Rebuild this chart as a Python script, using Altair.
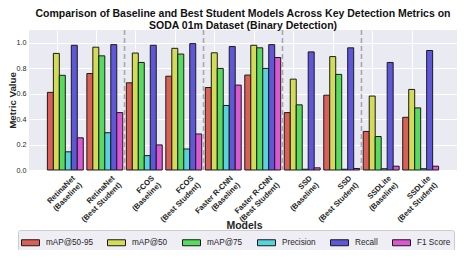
import altair as alt
import pandas as pd

models = ["RetinaNet\n(Baseline)", "RetinaNet\n(Best Student)",
          "FCOS\n(Baseline)", "FCOS\n(Best Student)",
          "Faster R-CNN\n(Baseline)", "Faster R-CNN\n(Best Student)",
          "SSD\n(Baseline)", "SSD\n(Best Student)",
          "SSDLite\n(Baseline)", "SSDLite\n(Best Student)"]
metrics = ["mAP@50-95", "mAP@50", "mAP@75", "Precision", "Recall", "F1 Score"]
colors = ["#db5f57", "#d3db57", "#57db5f", "#57d3db", "#5f57db", "#db57d3"]

map5095 = [0.610, 0.758, 0.685, 0.737, 0.648, 0.746, 0.451, 0.588, 0.303, 0.414]
map50 = [0.916, 0.965, 0.919, 0.956, 0.921, 0.980, 0.714, 0.891, 0.581, 0.633]
map75 = [0.744, 0.897, 0.845, 0.911, 0.798, 0.960, 0.512, 0.751, 0.263, 0.488]
precision = [0.143, 0.293, 0.113, 0.165, 0.507, 0.798, 0.006, 0.006, 0.010, 0.010]
recall = [0.980, 0.985, 0.980, 0.993, 0.970, 0.985, 0.928, 0.960, 0.845, 0.939]
f1 = [0.253, 0.451, 0.197, 0.283, 0.667, 0.884, 0.017, 0.012, 0.030, 0.030]

separators = [models[1], models[3], models[5], models[7]]
title_lines = ["Comparison of Baseline and Best Student Models Across Key Detection Metrics on",
               "SODA 01m Dataset (Binary Detection)"]

series = [map5095, map50, map75, precision, recall, f1]
rows = []
for m, vals in zip(metrics, series):
    for model, v in zip(models, vals):
        rows.append({"Model": model, "Metric": m, "Value": v})
df = pd.DataFrame(rows)
sep_df = pd.DataFrame({"Model": separators})

x_scale = alt.Scale(domain=models, paddingInner=0, paddingOuter=0.42)
x_axis = alt.Axis(
    title="Models", titleFontSize=10.5, titleFontWeight="bold", titleColor="#262626",
    titleY=55, titleX=215, titleBaseline="middle", titleAlign="center",
    labelExpr="split(datum.label, '\\n')", labelAngle=-45, labelAlign="right",
    labelBaseline="top", labelFontSize=7.7, labelFontWeight="bold", labelColor="#262626",
    labelLineHeight=9.5, labelPadding=4, labelOffset=6, bandPosition=0.29,
    ticks=False, domain=False, grid=True, gridColor="white", gridWidth=1,
)

bars = alt.Chart(df).mark_bar(stroke="#1a1a1a", strokeWidth=1).encode(
    x=alt.X("Model:N", sort=models, scale=x_scale, axis=x_axis),
    xOffset=alt.XOffset("Metric:N", sort=metrics,
                        scale=alt.Scale(domain=metrics, paddingInner=0, paddingOuter=0.3)),
    y=alt.Y("Value:Q", scale=alt.Scale(domain=[0, 1.1], nice=False),
            axis=alt.Axis(title="Metric Value", titleFontSize=9.7, titleFontWeight="bold",
                          titleColor="#262626", titleX=-16.5, titleY=70,
                          titleBaseline="middle", titleAlign="center",
                          values=[0, 0.2, 0.4, 0.6, 0.8, 1.0], format=".1f",
                          labelFontSize=7.2, labelColor="#262626", labelPadding=3,
                          ticks=False, domain=False, grid=True, gridColor="white", gridWidth=1)),
    color=alt.Color("Metric:N", sort=metrics, scale=alt.Scale(domain=metrics, range=colors),
                    legend=alt.Legend(orient="none", legendX=-11, legendY=200,
                                      direction="horizontal", title=None,
                                      symbolType="M-1,-0.333H1V0.333H-1Z", symbolSize=324,
                                      symbolStrokeColor="#1a1a1a", symbolStrokeWidth=1,
                                      symbolOpacity=1, labelFontSize=8.2, labelColor="#262626",
                                      labelOffset=6, columnPadding=12, padding=3, labelLimit=200,
                                      fillColor="#eeeef4", strokeColor="#cccccc", cornerRadius=2)),
)

rules = alt.Chart(sep_df).mark_rule(color="#a8a8a8", strokeDash=[5, 3], strokeWidth=1.6).encode(
    x=alt.X("Model:N", sort=models, scale=x_scale, axis=x_axis, bandPosition=1),
)

chart = alt.layer(bars, rules).properties(
    width=428, height=140,
    padding={"left": 21, "top": 22, "right": 3, "bottom": 80},
    autosize=alt.AutoSizeParams(type="none"),
    title=alt.TitleParams(text=title_lines, anchor="middle", frame="group", fontSize=10.5,
                          fontWeight="bold", color="#111111", lineHeight=11.5,
                          baseline="bottom", offset=1, dy=13),
).configure(font="Liberation Sans").configure_view(fill="#eaeaf2", stroke=None)

chart.save("out.html", embed_options={"renderer": "svg", "actions": False})
